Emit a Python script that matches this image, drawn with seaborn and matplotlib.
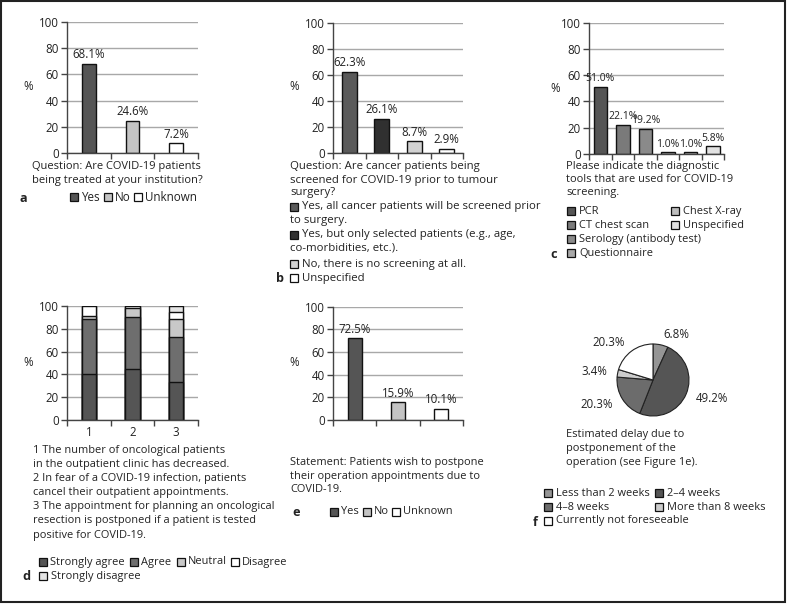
import matplotlib
matplotlib.use("Agg")
import matplotlib.pyplot as plt
import seaborn as sns
import numpy as np
import pandas as pd
from matplotlib.patches import Rectangle
from matplotlib.textpath import TextPath
from matplotlib.font_manager import FontProperties

# ---------------- data ----------------
a_cats = ["Yes", "No", "Unknown"]
a_vals = [68.1, 24.6, 7.2]

b_cats = ["Yes, all cancer patients will be screened prior to surgery.",
          "Yes, but only selected patients (e.g., age, co-morbidities, etc.).",
          "No, there is no screening at all.",
          "Unspecified"]
b_vals = [62.3, 26.1, 8.7, 2.9]

c_cats = ["PCR", "CT chest scan", "Serology (antibody test)", "Questionnaire",
          "Chest X-ray", "Unspecified"]
c_vals = [51.0, 22.1, 19.2, 1.0, 1.0, 5.8]

d_stmts = ["1", "2", "3"]
d_levels = ["Strongly agree", "Agree", "Neutral", "Disagree", "Strongly disagree"]
d_strongly_agree = [40.0, 44.4, 33.3]
d_agree = [48.3, 45.6, 39.2]
d_neutral = [3.3, 8.5, 16.1]
d_disagree = [8.4, 1.5, 6.4]
d_strongly_disagree = [0.0, 0.0, 5.0]

e_cats = ["Yes", "No", "Unknown"]
e_vals = [72.5, 15.9, 10.1]

f_cats = ["Less than 2 weeks", "2\u20134 weeks", "4\u20138 weeks",
          "More than 8 weeks", "Currently not foreseeable"]
f_vals = [6.8, 49.2, 20.3, 3.4, 20.3]

# ---------------- styles ----------------
col_yes = "#555555"
col_no = "#c4c4c4"
col_unk = "#ffffff"
b_cols = ["#5a5a5a", "#303030", "#d2d2d2", "#ffffff"]
c_cols = ["#555555", "#7a7a7a", "#8a8a8a", "#a8a8a8", "#bdbdbd", "#e2e2e2"]
d_cols = ["#555555", "#6e6e6e", "#c8c8c8", "#ffffff", "#e4e4e4"]
f_cols = ["#959595", "#555555", "#6c6c6c", "#cccccc", "#ffffff"]

sns.set_theme(style="white")
FONT = ["Open Sans", "DejaVu Sans"]
plt.rcParams["font.family"] = FONT
FS = 7.9
TFS = 8.3
TXT = "#222222"

W, H = 788, 604
fig = plt.figure(figsize=(W / 100, H / 100), dpi=100)
fig.patch.set_facecolor("white")


def ax_px(left, right, top, bottom):
    return fig.add_axes([left / W, 1 - bottom / H, (right - left) / W, (bottom - top) / H])


def ftext(x, y, s, **kw):
    kw.setdefault("fontsize", FS)
    kw.setdefault("color", TXT)
    kw.setdefault("va", "center")
    kw.setdefault("ha", "left")
    fig.text(x / W, 1 - y / H, s, **kw)


def fsquare(x, y, color, size=8):
    fig.add_artist(Rectangle((x / W, 1 - (y + size / 2) / H), size / W, size / H,
                             transform=fig.transFigure, facecolor=color,
                             edgecolor="#111111", linewidth=0.9))


def legend_row(x, y, items, fs=None, gap=5):
    fs = fs or FS
    fp = FontProperties(family=FONT, size=fs)
    cx = x
    for color, label in items:
        fsquare(cx, y, color)
        ftext(cx + 11, y, label, fontsize=fs)
        tp = TextPath((0, 0), label, prop=fp)
        wpx = tp.get_extents().width * 100 / 72
        cx += 11 + wpx + gap


def style_bar_axes(ax, n, xlabels=None):
    ax.set_ylim(0, 100)
    ax.set_xlim(-0.5, n - 0.5)
    ax.set_yticks([0, 20, 40, 60, 80, 100])
    ax.yaxis.grid(True, color="#a8a8a8", linewidth=1.0)
    ax.set_axisbelow(True)
    for s in ["top", "right"]:
        ax.spines[s].set_visible(False)
    for s in ["left", "bottom"]:
        ax.spines[s].set_color("#444444")
        ax.spines[s].set_linewidth(1.0)
    ax.set_xlabel("")
    ax.set_ylabel("")
    ax.tick_params(axis="y", which="major", direction="out", length=4, width=1,
                   color="#444444", labelsize=TFS, labelcolor=TXT, pad=2, left=True)
    ax.set_xticks(np.arange(-0.5, n, 1.0), minor=True)
    ax.tick_params(axis="x", which="minor", direction="out", length=4, width=1,
                   color="#444444", bottom=True)
    if xlabels is None:
        ax.set_xticks([])
    else:
        ax.set_xticks(range(n))
        ax.set_xticklabels(xlabels)
        ax.tick_params(axis="x", which="major", length=0, labelsize=TFS,
                       labelcolor=TXT, pad=4)
    ax.patch.set_alpha(0)


def simple_bars(ax, cats, vals, cols, width, lfs=None):
    lfs = lfs or TFS
    df = pd.DataFrame({"cat": cats, "val": vals})
    sns.barplot(data=df, x="cat", y="val", hue="cat", palette=cols, order=cats,
                hue_order=cats, width=width, edgecolor="#111111", linewidth=1.0,
                legend=False, ax=ax, saturation=1)
    style_bar_axes(ax, len(cats))
    for i, v in enumerate(vals):
        ax.text(i, v + 2, f"{v:.1f}%", ha="center", va="bottom", fontsize=lfs,
                color=TXT)


# ---------------- panel a ----------------
axa = ax_px(67, 198, 22.3, 152.7)
simple_bars(axa, a_cats, a_vals, [col_yes, col_no, col_unk], 0.32)
ftext(23, 86, "%", fontsize=TFS)
ftext(32, 166, "Question: Are COVID-19 patients", fontsize=8.0)
ftext(32, 180, "being treated at your institution?", fontsize=8.0)
ftext(20, 198, "a", fontweight="bold", fontsize=FS + 1.2)
legend_row(70, 197, [(col_yes, "Yes"), (col_no, "No"), (col_unk, "Unknown")], fs=8.4)

# ---------------- panel b ----------------
axb = ax_px(333, 463, 22.7, 152.7)
simple_bars(axb, b_cats, b_vals, b_cols, 0.46)
ftext(289, 86, "%", fontsize=TFS)
BFS = 8.2
ftext(290, 166, "Question: Are cancer patients being", fontsize=BFS)
ftext(290, 180, "screened for COVID-19 prior to tumour", fontsize=BFS)
ftext(290, 193, "surgery?", fontsize=BFS)
fsquare(290, 207, b_cols[0])
ftext(302, 207, "Yes, all cancer patients will be screened prior", fontsize=BFS)
ftext(290, 220, "to surgery.", fontsize=BFS)
fsquare(290, 235, b_cols[1])
ftext(302, 235, "Yes, but only selected patients (e.g., age,", fontsize=BFS)
ftext(290, 248, "co-morbidities, etc.).", fontsize=BFS)
fsquare(290, 264, b_cols[2])
ftext(302, 264, "No, there is no screening at all.", fontsize=BFS)
fsquare(290, 278, b_cols[3])
ftext(302, 278, "Unspecified", fontsize=BFS)
ftext(276, 279, "b", fontweight="bold", fontsize=FS + 1.2)

# ---------------- panel c ----------------
axc = ax_px(589, 724, 23, 153.7)
simple_bars(axc, c_cats, c_vals, c_cols, 0.6, lfs=7.5)
ftext(550, 88, "%", fontsize=TFS)
ftext(566, 166, "Please indicate the diagnostic")
ftext(566, 180, "tools that are used for COVID-19")
ftext(566, 193, "screening.")
left_col = [0, 1, 2, 3]
right_col = [4, 5]
ys = [211, 225, 239, 253]
for k, i in enumerate(left_col):
    fsquare(567, ys[k], c_cols[i])
    ftext(579, ys[k], c_cats[i])
for k, i in enumerate(right_col):
    fsquare(671, ys[k], c_cols[i])
    ftext(683, ys[k], c_cats[i])
ftext(550, 254, "c", fontweight="bold", fontsize=FS + 1.2)

# ---------------- panel d ----------------
axd = ax_px(67, 198, 306, 420)
d_layers = [d_strongly_agree, d_agree, d_neutral, d_disagree, d_strongly_disagree]
cum = np.cumsum(np.array(d_layers), axis=0)
for li in range(len(d_levels) - 1, -1, -1):
    sns.barplot(x=d_stmts, y=cum[li], color=d_cols[li], width=0.33,
                edgecolor="#111111", linewidth=1.0, ax=axd, saturation=1)
style_bar_axes(axd, 3, xlabels=d_stmts)
ftext(23, 362, "%", fontsize=TFS)
d_text = ["1 The number of oncological patients",
          "in the outpatient clinic has decreased.",
          "2 In fear of a COVID-19 infection, patients",
          "cancel their outpatient appointments.",
          "3 The appointment for planning an oncological",
          "resection is postponed if a patient is tested",
          "positive for COVID-19."]
for k, line in enumerate(d_text):
    ftext(33, 450 + k * 14.2, line)
legend_row(39, 562, [(d_cols[0], d_levels[0]), (d_cols[1], d_levels[1]),
                     (d_cols[2], d_levels[2]), (d_cols[3], d_levels[3])], gap=7)
fsquare(39, 576, d_cols[4])
ftext(51, 576, d_levels[4])
ftext(22, 577, "d", fontweight="bold", fontsize=FS + 1.2)

# ---------------- panel e ----------------
axe = ax_px(333, 463, 306.7, 420)
simple_bars(axe, e_cats, e_vals, [col_yes, col_no, col_unk], 0.33)
ftext(289, 362, "%", fontsize=TFS)
ftext(290, 462, "Statement: Patients wish to postpone")
ftext(290, 476, "their operation appointments due to")
ftext(290, 489, "COVID-19.")
ftext(292, 513, "e", fontweight="bold", fontsize=FS + 1.2)
legend_row(330, 512, [(col_yes, "Yes"), (col_no, "No"), (col_unk, "Unknown")])

# ---------------- panel f ----------------
r = 36
axf = ax_px(653 - 1.25 * r, 653 + 1.25 * r, 380 - 1.25 * r, 380 + 1.25 * r)
axf.pie(f_vals, colors=f_cols, startangle=90, counterclock=False,
        labels=[f"{v:.1f}%" for v in f_vals], labeldistance=1.3,
        wedgeprops=dict(edgecolor="#222222", linewidth=0.8),
        textprops=dict(fontsize=TFS, color=TXT))
axf.set_xlim(-1.25, 1.25)
axf.set_ylim(-1.25, 1.25)
axf.set_aspect("equal")
ftext(566, 435, "Estimated delay due to")
ftext(566, 449, "postponement of the")
ftext(566, 463, "operation (see Figure 1e).")
fsquare(544, 493, f_cols[0]); ftext(556, 493, f_cats[0])
fsquare(655, 493, f_cols[1]); ftext(667, 493, f_cats[1])
fsquare(544, 507, f_cols[2]); ftext(556, 507, f_cats[2])
fsquare(655, 507, f_cols[3]); ftext(667, 507, f_cats[3])
fsquare(544, 521, f_cols[4]); ftext(556, 521, f_cats[4])
ftext(533, 523, "f", fontweight="bold", fontsize=FS + 1.2)

# frame
fig.add_artist(Rectangle((1 / W, 1 - 602 / H), 784 / W, 601 / H, transform=fig.transFigure,
                         fill=False, edgecolor="#222222", linewidth=1.5))

fig.savefig("out.png", dpi=100, facecolor="white")
